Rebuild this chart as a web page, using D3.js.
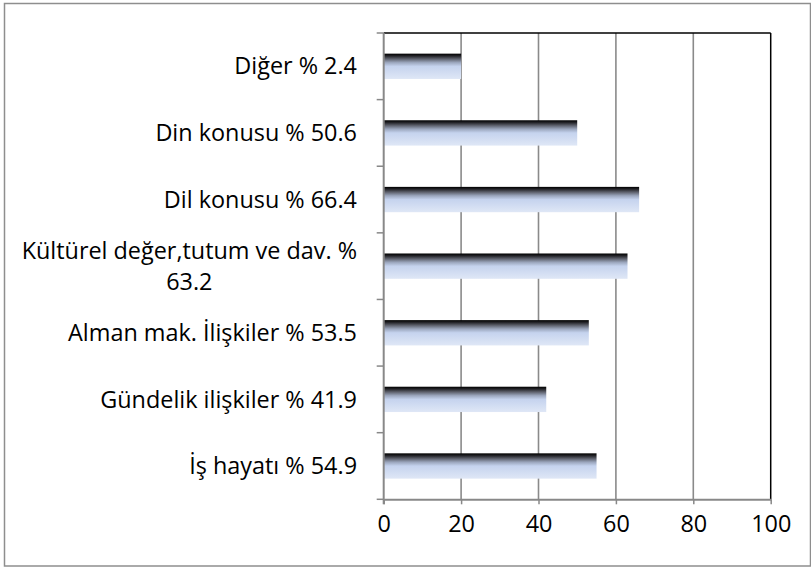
<!DOCTYPE html>
<html><head><meta charset="utf-8">
<script src="https://cdn.jsdelivr.net/npm/d3@7"></script>
<style>body{margin:0;background:#fff}svg{display:block}</style>
</head><body>
<script>
const categories = ["Diğer % 2.4","Din konusu % 50.6","Dil konusu % 66.4","Kültürel değer,tutum ve dav. % 63.2","Alman mak. İlişkiler % 53.5","Gündelik ilişkiler % 41.9","İş hayatı % 54.9"];
const values = [20, 50, 66, 63, 53, 42, 55];
const xTicks = [0, 20, 40, 60, 80, 100];

const W = 811, H = 570;
const m = {left: 383.7, right: W - 770.7, top: 33, bottom: H - 499.3};
const FONT = "'Open Sans', Lato, sans-serif";
const FS = 23.4;

const svg = d3.select("body").append("svg").attr("width", W).attr("height", H);
const defs = svg.append("defs");
const grad = defs.append("linearGradient").attr("id","barGrad").attr("x1",0).attr("y1",0).attr("x2",0).attr("y2",1);
[[0,"#000000"],[0.08,"#1e1e22"],[0.2,"#5a5d68"],[0.35,"#9ba6bd"],[0.5,"#c5d3ee"],[1,"#dfe7f6"]].forEach(([o,c]) =>
  grad.append("stop").attr("offset",o).attr("stop-color",c));

// outer border
svg.append("rect").attr("x",4.5).attr("y",3.5).attr("width",806).attr("height",562.5)
  .attr("fill","none").attr("stroke","#8e8e8e").attr("stroke-width",1.5);

const x = d3.scaleLinear().domain([0,100]).range([m.left, W - m.right]);
const y = d3.scaleBand().domain(categories).range([m.top, H - m.bottom]).paddingInner(0.62).paddingOuter(0.31);
const yb = d3.scaleBand().domain(categories).range([m.top, H - m.bottom]);

// gridlines
svg.append("g").selectAll("line").data(xTicks.filter(t => t > 0 && t < 100)).join("line")
  .attr("x1", d => x(d)).attr("x2", d => x(d)).attr("y1", m.top).attr("y2", H - m.bottom)
  .attr("stroke","#8a8a8a").attr("stroke-width",1.6);

// plot area border top/right (black)
svg.append("line").attr("x1", x(0)).attr("x2", x(100)).attr("y1", m.top).attr("y2", m.top).attr("stroke","#000").attr("stroke-width",1.5);
svg.append("line").attr("x1", x(100)).attr("x2", x(100)).attr("y1", m.top).attr("y2", H - m.bottom).attr("stroke","#000").attr("stroke-width",1.5);

// bars
svg.append("g").selectAll("rect").data(categories).join("rect")
  .attr("x", x(0)).attr("y", d => y(d)).attr("width", (d,i) => x(values[i]) - x(0)).attr("height", y.bandwidth())
  .attr("fill","url(#barGrad)");

// x axis
const xAxis = svg.append("g").attr("transform",`translate(0,${H - m.bottom})`)
  .call(d3.axisBottom(x).tickValues(xTicks).tickSize(5).tickSizeOuter(0).tickPadding(11).tickFormat(d3.format("d")));
xAxis.select(".domain").attr("stroke","#888").attr("stroke-width",2);
xAxis.selectAll(".tick line").attr("stroke","#888").attr("stroke-width",1.5);
xAxis.selectAll(".tick text").attr("font-family",FONT).attr("font-size",FS).attr("fill","#000");

// y axis line and ticks (boundaries)
svg.append("line").attr("x1", x(0)).attr("x2", x(0)).attr("y1", m.top).attr("y2", H - m.bottom + 5).attr("stroke","#888").attr("stroke-width",2);
const bounds = d3.range(categories.length + 1).map(i => m.top + i * yb.step());
svg.append("g").selectAll("line").data(bounds).join("line")
  .attr("x1", x(0) - 7).attr("x2", x(0)).attr("y1", d => d).attr("y2", d => d)
  .attr("stroke","#888").attr("stroke-width",1.5);

// category labels with wrapping
const labelRight = 357;
const maxW = 350;
const lh = 31;
const lg = svg.append("g").attr("font-family",FONT).attr("font-size",FS).attr("fill","#000");
categories.forEach(c => {
  const t = lg.append("text").attr("y", 0);
  const words = c.split(" ");
  const lines = [];
  let cur = "";
  words.forEach(w => {
    const test = cur ? cur + " " + w : w;
    t.text(test);
    if (t.node().getComputedTextLength() > maxW && cur) { lines.push(cur); cur = w; }
    else cur = test;
  });
  lines.push(cur);
  t.text(null);
  const widths = lines.map(l => { t.text(l); return t.node().getComputedTextLength(); });
  t.text(null);
  const bw = Math.max(...widths);
  const cy = yb(c) + yb.bandwidth() / 2;
  const n = lines.length;
  lines.forEach((l, i) => {
    t.append("tspan").attr("x", n > 1 ? labelRight - bw / 2 : labelRight)
      .attr("text-anchor", n > 1 ? "middle" : "end")
      .attr("y", cy + (i - (n - 1) / 2) * lh).attr("dy","0.35em").text(l);
  });
});
</script>
</body></html>
